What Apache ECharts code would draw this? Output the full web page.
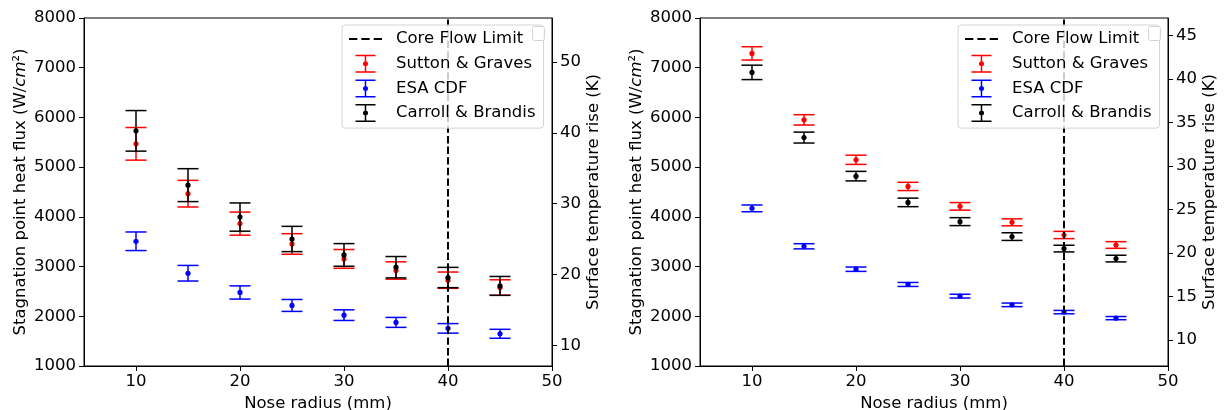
<!DOCTYPE html>
<html>
<head>
<meta charset="utf-8">
<script src="https://cdn.jsdelivr.net/npm/echarts@6/dist/echarts.min.js"></script>
<style>
html,body{margin:0;padding:0;background:#fff;}
#chart{width:1224px;height:410px;}
</style>
</head>
<body>
<div id="chart"></div>
<script>
// nose radius (mm)
var radii = [10, 15, 20, 25, 30, 35, 40, 45];
var coreFlowLimit = 40;

// left panel, heat flux (W/cm2) and half error
var leftSutton = [5469, 4466, 3864, 3455, 3154, 2921, 2726, 2579];
var leftSuttonErr = [328, 268, 232, 207, 189, 175, 164, 155];
var leftEsa = [3509, 2866, 2479, 2218, 2023, 1877, 1757, 1648];
var leftEsaErr = [187, 157, 133, 120, 107, 100, 96, 90];
var leftCarroll = [5730, 4638, 3996, 3555, 3234, 2987, 2780, 2611];
var leftCarrollErr = [408, 331, 284, 254, 228, 215, 204, 190];

// right panel
var rightSutton = [7288, 5951, 5148, 4612, 4211, 3890, 3635, 3434];
var rightSuttonErr = [134, 104, 93, 83, 76, 70, 73, 67];
var rightEsa = [4171, 3408, 2947, 2640, 2405, 2230, 2084, 1963];
var rightEsaErr = [68, 52, 44, 40, 38, 36, 34, 32];
var rightCarroll = [6906, 5595, 4819, 4291, 3904, 3603, 3362, 3161];
var rightCarrollErr = [145, 110, 96, 86, 80, 77, 67, 67];

// tick labels
var xTicks = [10, 20, 30, 40, 50];
var tempTicksLeft = [10, 20, 30, 40, 50];
var tempTicksRight = [10, 15, 20, 25, 30, 35, 40, 45];

var FONT = 'DejaVu Sans';
var FS = 16.5;
var names = ['Core Flow Limit', 'Sutton & Graves', 'ESA CDF', 'Carroll & Brandis'];
var barIcon = 'path://M0 0H20V1.5H0Z M0 16.5H20V18H0Z M9.25 1.5H10.75V6.5H9.25Z M9.25 11.5H10.75V16.5H9.25Z M7.5 9A2.5 2.5 0 1 1 12.5 9A2.5 2.5 0 1 1 7.5 9Z';
var dashIcon = 'path://M0 0H8.3V2H0Z M12.35 0H20.65V2H12.35Z M24.7 0H33V2H24.7Z';

function errRender( params, api ) {
	var x = api.value(0), y = api.value(1), e = api.value(2);
	var p = api.coord([x, y]);
	var hi = api.coord([x, y + e]);
	var lo = api.coord([x, y - e]);
	var w = 10.5;
	var color = api.visual('color');
	var st = {stroke: color, lineWidth: 1.5};
	return {
		type: 'group',
		children: [
			{type: 'line', shape: {x1: p[0], y1: hi[1], x2: p[0], y2: lo[1]}, style: st},
			{type: 'line', shape: {x1: p[0] - w, y1: hi[1], x2: p[0] + w, y2: hi[1]}, style: st},
			{type: 'line', shape: {x1: p[0] - w, y1: lo[1], x2: p[0] + w, y2: lo[1]}, style: st},
			{type: 'circle', shape: {cx: p[0], cy: p[1], r: 2.6}, style: {fill: color}}
		]
	};
}

function errSeries( name, color, vals, errs, idx ) {
	return {
		name: name,
		type: 'custom',
		xAxisIndex: idx,
		yAxisIndex: idx * 2,
		itemStyle: {color: color},
		encode: {x: 0, y: 1},
		renderItem: errRender,
		data: radii.map(function (r, i) { return [r, vals[i], errs[i]]; })
	};
}

function limitSeries( idx ) {
	return {
		name: 'Core Flow Limit',
		type: 'line',
		xAxisIndex: idx,
		yAxisIndex: idx * 2,
		symbol: 'none',
		silent: true,
		lineStyle: {color: '#000', width: 2, type: [7.4, 3.2]},
		itemStyle: {color: '#000'},
		data: [[coreFlowLimit, 1000], [coreFlowLimit, 8000]]
	};
}

var axisCommon = {
	axisLine: {show: true, onZero: false, lineStyle: {color: '#000', width: 1}},
	axisTick: {show: true, length: 5, lineStyle: {color: '#000', width: 1}},
	splitLine: {show: false},
	nameTextStyle: {fontFamily: FONT, fontSize: FS, color: '#000'}
};

function plain( v ) { return String(v); }

function xAxis( idx ) {
	return Object.assign({}, axisCommon, {
		type: 'value',
		gridIndex: idx,
		min: 5,
		max: 50,
		name: 'Nose radius (mm)',
		nameLocation: 'middle',
		nameGap: 27,
		axisTick: Object.assign({}, axisCommon.axisTick, {customValues: xTicks}),
		axisLabel: {customValues: xTicks, margin: 7, formatter: plain, fontFamily: FONT, fontSize: FS, color: '#000'}
	});
}

function fluxAxis( idx ) {
	return Object.assign({}, axisCommon, {
		type: 'value',
		gridIndex: idx,
		position: 'left',
		min: 1000,
		max: 8000,
		interval: 1000,
		name: 'Stagnation point heat flux (W/{i|cm}²)',
		nameLocation: 'middle',
		nameRotate: 90,
		nameGap: 55,
		nameTextStyle: {fontFamily: FONT, fontSize: FS, color: '#000',
			rich: {i: {fontFamily: FONT, fontSize: FS, fontStyle: 'italic', color: '#000'}}},
		axisLabel: {margin: 8, formatter: plain, fontFamily: FONT, fontSize: FS, color: '#000'}
	});
}

function tempAxis( idx, min, max, ticks ) {
	return Object.assign({}, axisCommon, {
		type: 'value',
		gridIndex: idx,
		position: 'right',
		min: min,
		max: max,
		name: 'Surface temperature rise (K)',
		nameLocation: 'middle',
		nameRotate: 90,
		nameGap: 33,
		axisTick: Object.assign({}, axisCommon.axisTick, {customValues: ticks}),
		axisLabel: {customValues: ticks, margin: 8, formatter: plain, fontFamily: FONT, fontSize: FS, color: '#000'}
	});
}

function legend( left ) {
	return {
		orient: 'vertical',
		left: left,
		top: 25,
		padding: [5, 8, 6, 7],
		itemWidth: 33,
		itemHeight: 18,
		itemGap: 6.7,
		backgroundColor: 'rgba(255,255,255,0.8)',
		borderColor: '#d4d4d4',
		borderWidth: 1,
		borderRadius: 3,
		selectedMode: false,
		itemStyle: {borderWidth: 0},
		textStyle: {fontFamily: FONT, fontSize: FS, color: '#000', lineHeight: 18, padding: [0, 0, 0, 9]},
		data: [
			{name: names[0], icon: dashIcon},
			{name: names[1], icon: barIcon},
			{name: names[2], icon: barIcon},
			{name: names[3], icon: barIcon}
		]
	};
}

function emptyBox( x ) {
	return {
		type: 'rect',
		left: x,
		top: 26,
		z: 100,
		shape: {width: 12, height: 14, r: 2},
		style: {fill: 'rgba(255,255,255,0.8)', stroke: '#d4d4d4', lineWidth: 1}
	};
}

var myChart = echarts.init( document.getElementById('chart'), null, {renderer: 'canvas'} );

var option = {
	animation: false,
	backgroundColor: '#fff',
	grid: [
		{left: 84, right: 672, top: 18, bottom: 44, outerBoundsMode: 'none', show: true, borderColor: '#000', borderWidth: 1, backgroundColor: 'transparent'},
		{left: 700, right: 56, top: 18, bottom: 44, outerBoundsMode: 'none', show: true, borderColor: '#000', borderWidth: 1, backgroundColor: 'transparent'}
	],
	xAxis: [xAxis(0), xAxis(1)],
	yAxis: [
		fluxAxis(0),
		tempAxis(0, 7.1, 56.2, tempTicksLeft),
		fluxAxis(1),
		tempAxis(1, 7.0, 47.0, tempTicksRight)
	],
	legend: [legend(342), legend(958)],
	graphic: [emptyBox(532), emptyBox(1148)],
	series: [
		limitSeries(0),
		errSeries(names[1], '#ff0000', leftSutton, leftSuttonErr, 0),
		errSeries(names[2], '#0000ff', leftEsa, leftEsaErr, 0),
		errSeries(names[3], '#000000', leftCarroll, leftCarrollErr, 0),
		limitSeries(1),
		errSeries(names[1], '#ff0000', rightSutton, rightSuttonErr, 1),
		errSeries(names[2], '#0000ff', rightEsa, rightEsaErr, 1),
		errSeries(names[3], '#000000', rightCarroll, rightCarrollErr, 1)
	]
};

myChart.setOption(option);
</script>
</body>
</html>
